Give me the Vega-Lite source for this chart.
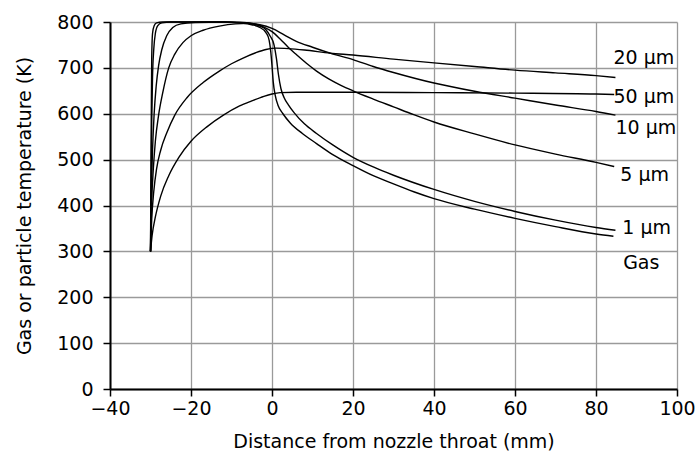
{
  "$schema": "https://vega.github.io/schema/vega-lite/v6.json",
  "width": 567,
  "height": 367,
  "autosize": {"type": "none"},
  "padding": {"left": 110, "top": 22, "right": 22, "bottom": 78},
  "background": "white",
  "config": {
    "view": {"stroke": null},
    "font": "DejaVu Sans",
    "axis": {
      "grid": true,
      "gridColor": "#9a9a9a",
      "gridWidth": 1.3,
      "domainColor": "black",
      "domainWidth": 2,
      "tickColor": "black",
      "tickWidth": 1.5,
      "tickSize": 7,
      "labelFont": "DejaVu Sans",
      "labelFontSize": 19,
      "labelColor": "black",
      "titleFont": "DejaVu Sans",
      "titleFontSize": 19,
      "titleFontWeight": "normal",
      "titleColor": "black",
      "labelFlush": false
    }
  },
  "datasets": {
    "curves": [
      {"series": "Gas", "x": -30, "y": 300}, {"series": "Gas", "x": -29.9, "y": 450}, {"series": "Gas", "x": -29.8, "y": 600}, {"series": "Gas", "x": -29.7, "y": 720}, {"series": "Gas", "x": -29.5, "y": 775}, {"series": "Gas", "x": -29.1, "y": 792}, {"series": "Gas", "x": -28.5, "y": 798}, {"series": "Gas", "x": -27, "y": 800}, {"series": "Gas", "x": -20, "y": 800}, {"series": "Gas", "x": -12, "y": 800}, {"series": "Gas", "x": -8, "y": 798}, {"series": "Gas", "x": -5, "y": 794}, {"series": "Gas", "x": -3, "y": 788}, {"series": "Gas", "x": -1.5, "y": 777}, {"series": "Gas", "x": -0.7, "y": 760}, {"series": "Gas", "x": -0.3, "y": 735}, {"series": "Gas", "x": 0, "y": 705}, {"series": "Gas", "x": 0.3, "y": 670}, {"series": "Gas", "x": 0.8, "y": 640}, {"series": "Gas", "x": 1.5, "y": 618}, {"series": "Gas", "x": 2.7, "y": 600}, {"series": "Gas", "x": 4.5, "y": 580}, {"series": "Gas", "x": 7.5, "y": 557}, {"series": "Gas", "x": 11, "y": 535}, {"series": "Gas", "x": 15, "y": 511}, {"series": "Gas", "x": 20, "y": 487}, {"series": "Gas", "x": 25, "y": 465}, {"series": "Gas", "x": 30, "y": 447}, {"series": "Gas", "x": 35, "y": 430}, {"series": "Gas", "x": 40, "y": 415}, {"series": "Gas", "x": 50, "y": 392}, {"series": "Gas", "x": 60, "y": 372}, {"series": "Gas", "x": 70, "y": 354}, {"series": "Gas", "x": 80, "y": 338}, {"series": "Gas", "x": 84.3, "y": 333},
      {"series": "1um", "x": -30, "y": 300}, {"series": "1um", "x": -29.85, "y": 450}, {"series": "1um", "x": -29.7, "y": 580}, {"series": "1um", "x": -29.5, "y": 680}, {"series": "1um", "x": -29.2, "y": 740}, {"series": "1um", "x": -28.8, "y": 775}, {"series": "1um", "x": -28.2, "y": 792}, {"series": "1um", "x": -27.2, "y": 798}, {"series": "1um", "x": -25, "y": 800}, {"series": "1um", "x": -12, "y": 800}, {"series": "1um", "x": -8, "y": 799}, {"series": "1um", "x": -5, "y": 796}, {"series": "1um", "x": -3, "y": 791}, {"series": "1um", "x": -1.5, "y": 783}, {"series": "1um", "x": -0.5, "y": 770}, {"series": "1um", "x": 0.5, "y": 750}, {"series": "1um", "x": 1.1, "y": 720}, {"series": "1um", "x": 1.6, "y": 685}, {"series": "1um", "x": 2.2, "y": 655}, {"series": "1um", "x": 3, "y": 635}, {"series": "1um", "x": 4, "y": 620}, {"series": "1um", "x": 5.5, "y": 602}, {"series": "1um", "x": 8, "y": 578}, {"series": "1um", "x": 11, "y": 557}, {"series": "1um", "x": 15, "y": 532}, {"series": "1um", "x": 20, "y": 505}, {"series": "1um", "x": 25, "y": 484}, {"series": "1um", "x": 30, "y": 466}, {"series": "1um", "x": 40, "y": 435}, {"series": "1um", "x": 50, "y": 409}, {"series": "1um", "x": 60, "y": 387}, {"series": "1um", "x": 70, "y": 368}, {"series": "1um", "x": 80, "y": 352}, {"series": "1um", "x": 84.8, "y": 346},
      {"series": "5um", "x": -30, "y": 300}, {"series": "5um", "x": -29.8, "y": 420}, {"series": "5um", "x": -29.5, "y": 520}, {"series": "5um", "x": -29.1, "y": 600}, {"series": "5um", "x": -28.6, "y": 660}, {"series": "5um", "x": -28, "y": 705}, {"series": "5um", "x": -27.2, "y": 740}, {"series": "5um", "x": -26, "y": 770}, {"series": "5um", "x": -24.5, "y": 788}, {"series": "5um", "x": -22.5, "y": 796}, {"series": "5um", "x": -19, "y": 799}, {"series": "5um", "x": -12, "y": 800}, {"series": "5um", "x": -7, "y": 799}, {"series": "5um", "x": -4, "y": 795}, {"series": "5um", "x": -2, "y": 789}, {"series": "5um", "x": 0, "y": 779}, {"series": "5um", "x": 2, "y": 763}, {"series": "5um", "x": 4, "y": 745}, {"series": "5um", "x": 6, "y": 729}, {"series": "5um", "x": 8.5, "y": 710}, {"series": "5um", "x": 11, "y": 693}, {"series": "5um", "x": 14, "y": 676}, {"series": "5um", "x": 17, "y": 662}, {"series": "5um", "x": 20, "y": 650}, {"series": "5um", "x": 25, "y": 632}, {"series": "5um", "x": 30, "y": 615}, {"series": "5um", "x": 35, "y": 598}, {"series": "5um", "x": 40, "y": 582}, {"series": "5um", "x": 50, "y": 556}, {"series": "5um", "x": 60, "y": 532}, {"series": "5um", "x": 70, "y": 512}, {"series": "5um", "x": 80, "y": 494}, {"series": "5um", "x": 84.5, "y": 485},
      {"series": "10um", "x": -30, "y": 300}, {"series": "10um", "x": -29.7, "y": 410}, {"series": "10um", "x": -29.3, "y": 480}, {"series": "10um", "x": -28.8, "y": 540}, {"series": "10um", "x": -28, "y": 597}, {"series": "10um", "x": -27, "y": 645}, {"series": "10um", "x": -25.5, "y": 700}, {"series": "10um", "x": -24, "y": 730}, {"series": "10um", "x": -22, "y": 755}, {"series": "10um", "x": -20, "y": 770}, {"series": "10um", "x": -17, "y": 782}, {"series": "10um", "x": -13, "y": 791}, {"series": "10um", "x": -9, "y": 796}, {"series": "10um", "x": -6, "y": 797}, {"series": "10um", "x": -3, "y": 794}, {"series": "10um", "x": 0, "y": 786}, {"series": "10um", "x": 3, "y": 772}, {"series": "10um", "x": 6, "y": 758}, {"series": "10um", "x": 10, "y": 745}, {"series": "10um", "x": 14.4, "y": 732}, {"series": "10um", "x": 20, "y": 718}, {"series": "10um", "x": 25, "y": 703}, {"series": "10um", "x": 30, "y": 690}, {"series": "10um", "x": 40, "y": 667}, {"series": "10um", "x": 50, "y": 649}, {"series": "10um", "x": 60, "y": 634}, {"series": "10um", "x": 70, "y": 619}, {"series": "10um", "x": 80, "y": 605}, {"series": "10um", "x": 84.8, "y": 597},
      {"series": "20um", "x": -30, "y": 300}, {"series": "20um", "x": -29.7, "y": 370}, {"series": "20um", "x": -29.2, "y": 430}, {"series": "20um", "x": -28.5, "y": 480}, {"series": "20um", "x": -27.5, "y": 520}, {"series": "20um", "x": -26, "y": 558}, {"series": "20um", "x": -24, "y": 597}, {"series": "20um", "x": -21, "y": 635}, {"series": "20um", "x": -17, "y": 668}, {"series": "20um", "x": -13, "y": 693}, {"series": "20um", "x": -10, "y": 709}, {"series": "20um", "x": -7, "y": 722}, {"series": "20um", "x": -4, "y": 733}, {"series": "20um", "x": -1.5, "y": 740}, {"series": "20um", "x": 1, "y": 743}, {"series": "20um", "x": 4, "y": 742}, {"series": "20um", "x": 8, "y": 739}, {"series": "20um", "x": 14.4, "y": 732}, {"series": "20um", "x": 20, "y": 728}, {"series": "20um", "x": 30, "y": 719}, {"series": "20um", "x": 40, "y": 711}, {"series": "20um", "x": 50, "y": 703}, {"series": "20um", "x": 60, "y": 695}, {"series": "20um", "x": 70, "y": 689}, {"series": "20um", "x": 80, "y": 683}, {"series": "20um", "x": 84.8, "y": 679},
      {"series": "50um", "x": -30, "y": 300}, {"series": "50um", "x": -29.6, "y": 335}, {"series": "50um", "x": -28.8, "y": 375}, {"series": "50um", "x": -27.5, "y": 420}, {"series": "50um", "x": -25.5, "y": 465}, {"series": "50um", "x": -23, "y": 505}, {"series": "50um", "x": -20, "y": 540}, {"series": "50um", "x": -16, "y": 572}, {"series": "50um", "x": -12, "y": 597}, {"series": "50um", "x": -8, "y": 617}, {"series": "50um", "x": -5, "y": 628}, {"series": "50um", "x": -2, "y": 638}, {"series": "50um", "x": 0, "y": 643}, {"series": "50um", "x": 2, "y": 646}, {"series": "50um", "x": 6, "y": 647}, {"series": "50um", "x": 20, "y": 647}, {"series": "50um", "x": 40, "y": 646}, {"series": "50um", "x": 60, "y": 645}, {"series": "50um", "x": 80, "y": 643}, {"series": "50um", "x": 84.5, "y": 642}
    ],
    "labels": [
      {"label": "20 µm", "x": 84.3, "y": 722},
      {"label": "50 µm", "x": 84.3, "y": 636},
      {"label": "10 µm", "x": 84.8, "y": 569},
      {"label": "5 µm", "x": 86, "y": 466},
      {"label": "1 µm", "x": 86.5, "y": 352},
      {"label": "Gas", "x": 86.7, "y": 274}
    ]
  },
  "encoding": {
    "x": {
      "field": "x",
      "type": "quantitative",
      "scale": {"domain": [-40, 100], "nice": false},
      "axis": {"values": [-40, -20, 0, 20, 40, 60, 80, 100], "title": "Distance from nozzle throat (mm)", "titlePadding": 14, "labelPadding": 3}
    },
    "y": {
      "field": "y",
      "type": "quantitative",
      "scale": {"domain": [0, 800], "nice": false},
      "axis": {"values": [0, 100, 200, 300, 400, 500, 600, 700, 800], "title": "Gas or particle temperature (K)", "titlePadding": 22, "labelPadding": 10}
    }
  },
  "layer": [
    {
      "data": {"name": "curves"},
      "mark": {"type": "line", "color": "black", "strokeWidth": 1.4, "interpolate": "monotone"},
      "encoding": {"detail": {"field": "series"}}
    },
    {
      "data": {"name": "labels"},
      "mark": {"type": "text", "align": "left", "baseline": "middle", "fontSize": 19, "font": "DejaVu Sans", "color": "black"},
      "encoding": {"text": {"field": "label"}}
    }
  ]
}
